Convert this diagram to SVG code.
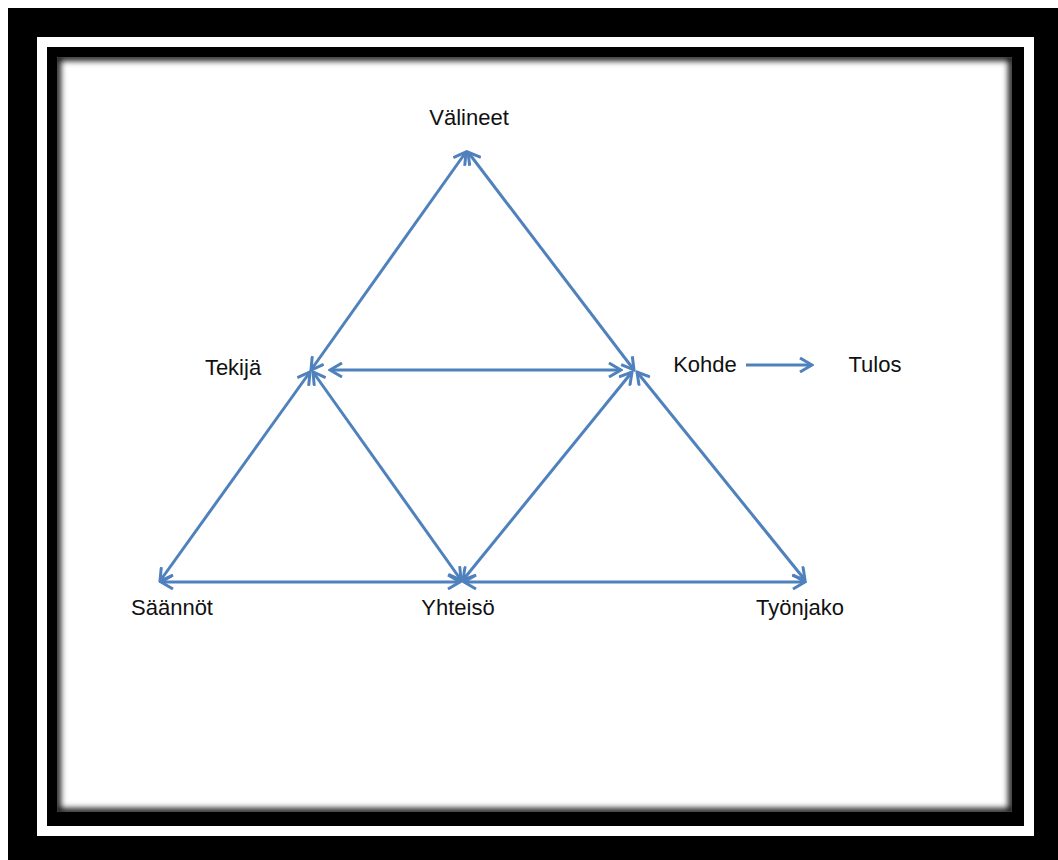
<svg xmlns="http://www.w3.org/2000/svg" width="1058" height="860" viewBox="0 0 1058 860">
  <defs>
    <style>
      .lbl { font-family: "Liberation Sans", Arial, sans-serif; font-size: 22px; fill: #111; text-anchor: middle; }
      .conn { stroke: #4f81bd; stroke-width: 3; fill: none; marker-start: url(#ah); marker-end: url(#ah); }
      .one { stroke: #4f81bd; stroke-width: 3; fill: none; marker-end: url(#ah); }
    </style>
    <marker id="ah" viewBox="0 0 16 16" refX="14" refY="8" markerWidth="16" markerHeight="16" markerUnits="userSpaceOnUse" orient="auto-start-reverse">
      <path d="M2,1 L14,8 L2,15" fill="none" stroke="#4f81bd" stroke-width="3"/>
    </marker>
    <clipPath id="innerClip">
      <rect x="57" y="57" width="955" height="755"/>
    </clipPath>
    <filter id="blur" x="-5%" y="-5%" width="110%" height="110%">
      <feGaussianBlur stdDeviation="3"/>
    </filter>
  </defs>

  <g id="frame">
    <rect x="0" y="0" width="1058" height="860" fill="#ffffff"/>
    <rect x="8" y="8" width="1050" height="852" fill="#000000"/>
    <rect x="37" y="37" width="997" height="799" fill="#ffffff"/>
    <rect x="47" y="47" width="977" height="779" fill="#000000"/>
    <rect x="57" y="57" width="955" height="755" fill="#ffffff"/>
    <g clip-path="url(#innerClip)">
      <rect x="57" y="57" width="955" height="755" fill="none" stroke="#000" stroke-width="7" filter="url(#blur)"/>
    </g>
  </g>

  <g id="connectors">
    <line class="conn" x1="311" y1="370" x2="466" y2="152"/>
    <line class="conn" x1="468" y1="152" x2="634" y2="370"/>
    <line class="conn" x1="330" y1="370" x2="621" y2="370"/>
    <line class="conn" x1="310" y1="372" x2="160" y2="581"/>
    <line class="conn" x1="313" y1="372" x2="461" y2="580"/>
    <line class="conn" x1="632" y1="372" x2="463" y2="580"/>
    <line class="conn" x1="637" y1="372" x2="805" y2="580"/>
    <line class="conn" x1="161" y1="582" x2="460" y2="582"/>
    <line class="conn" x1="464" y1="582" x2="805" y2="582"/>
    <line class="one" x1="746" y1="365" x2="812" y2="365"/>
  </g>

  <g id="node-valineet"><text class="lbl" x="469" y="125">Välineet</text></g>
  <g id="node-tekija"><text class="lbl" x="233" y="375">Tekijä</text></g>
  <g id="node-kohde"><text class="lbl" x="705" y="372">Kohde</text></g>
  <g id="node-tulos"><text class="lbl" x="875" y="372">Tulos</text></g>
  <g id="node-saannot"><text class="lbl" x="172" y="615">Säännöt</text></g>
  <g id="node-yhteiso"><text class="lbl" x="458" y="615">Yhteisö</text></g>
  <g id="node-tyonjako"><text class="lbl" x="800" y="615">Työnjako</text></g>
</svg>
